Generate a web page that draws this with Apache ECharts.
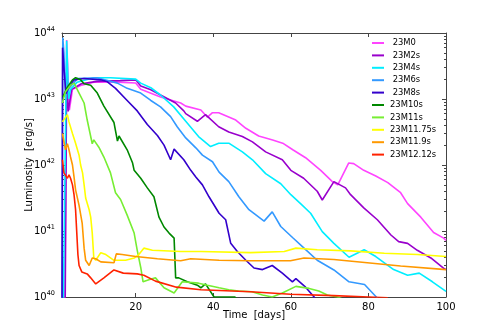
<!DOCTYPE html>
<html><head><meta charset="utf-8">
<script src="https://cdn.jsdelivr.net/npm/echarts@6/dist/echarts.min.js"></script>
<style>html,body{margin:0;padding:0;background:#fff}#c{width:495px;height:330px}</style>
</head><body><div id="c"></div>
<script>
const seriesNames = [' 23M0', ' 23M2s', ' 23M4s', ' 23M6s', ' 23M8s', '23M10s', '23M11s', '23M11.75s', '23M11.9s', '23M12.12s'];
const seriesColors = ['#ff44ff', '#9900cc', '#00eeff', '#3399ff', '#3300cc', '#008800', '#77ee33', '#ffff00', '#ff9900', '#ff2200'];

const m0 = [[1.7,5e39],[2.2,7.8e43],[2.6,7.8e43],[2.9,6.8e42],[3.7,1.4e43],[5.8,1.6e43],[9.2,1.8e43],[15.3,1.8e43],[20,1.75e43],[21.3,1.4e43],[26.4,1.07e43],[31.6,8.7e42],[32.9,7.8e42],[36.8,6.8e42],[38.5,5.3e42],[39.8,6.2e42],[41.4,6.2e42],[45.8,4.8e42],[48.4,3.6e42],[51.7,2.75e42],[55.3,2.4e42],[57.9,2.14e42],[60.5,1.7e42],[63.8,1.29e42],[67.7,8.3e41],[70.7,5.6e41],[72.1,5.0e41],[74.9,1.07e42],[76.2,1.05e42],[78.8,8.3e41],[81.9,6.8e41],[85.0,5.4e41],[88.3,3.8e41],[90.1,2.6e41],[93.5,1.62e41],[96.8,9.5e40],[99.4,7.8e40],[100,7.2e40]];
const m2s = [[1.8,5e39],[2.2,2.5e43],[2.6,6.5e42],[3.5,1.4e43],[6,1.7e43],[10,1.85e43],[16,1.9e43],[20,1.95e43],[21.3,1.58e43],[23.9,1.38e43],[26.4,1.15e43],[30.3,8.7e42],[32.4,6.6e42],[32.9,6.0e42],[35.9,4.6e42],[38.0,5.8e42],[41.4,3.8e42],[44.0,3.16e42],[47.5,2.7e42],[50.1,2.24e42],[53.5,1.58e42],[57.8,1.2e42],[60.0,8.3e41],[63.3,6.3e41],[66.8,4.0e41],[68.1,2.95e41],[71.1,5.6e41],[74.1,4.5e41],[75.4,3.55e41],[78.8,2.24e41],[82.3,1.48e41],[85.8,8.7e40],[87.8,6.9e40],[90.1,6.5e40],[92.6,5.1e40],[96.1,3.9e40],[99.5,2.7e40],[100,2.6e40]];
const m4s = [[1.3,5e39],[2.2,7.6e43],[2.5,7.6e43],[2.7,1.0e43],[3.2,1.4e43],[4.9,1.8e43],[9.2,2.1e43],[13.5,2.1e43],[20,2.0e43],[21.3,1.74e43],[23.9,1.48e43],[26.4,1.15e43],[29.8,7.6e42],[32.9,4.6e42],[36.2,2.7e42],[39.3,1.9e42],[41.4,2.14e42],[44.0,2.14e42],[47.5,1.58e42],[50.1,1.2e42],[53.5,7.4e41],[57.4,5.2e41],[60.0,3.55e41],[62.5,2.6e41],[65.1,1.86e41],[68.1,9.8e40],[71.1,6.5e40],[75.0,4.0e40],[78.9,5.2e40],[81.9,4.1e40],[86.5,2.6e40],[90.1,2.14e40],[93.1,2.3e40],[96.5,1.7e40],[100,1.22e40]];
const m6s = [[1.0,5e39],[1.2,8.5e43],[1.5,5e43],[1.9,1.2e43],[3.0,1.5e43],[5.0,2.04e43],[10,2.1e43],[15.3,1.74e43],[17.8,1.45e43],[21.3,1.23e43],[23.9,9.5e42],[26.4,7.6e42],[29.0,5.4e42],[30.7,3.8e42],[32.9,2.57e42],[35.5,1.82e42],[37.2,1.41e42],[39.8,1.12e42],[41.5,7.8e41],[44.0,5.6e41],[46.6,3.3e41],[49.2,2.1e41],[53.1,1.41e41],[55.2,1.95e41],[57.4,1.17e41],[60.5,7.9e40],[63.4,5.5e40],[66.8,3.6e40],[71.1,2.57e40],[75.0,1.7e40],[79.0,1.55e40],[82.4,9.5e39]];
const m8s = [[1.0,5e39],[1.15,6e43],[1.5,3e43],[2.0,1.2e43],[3.0,1.6e43],[4.1,1.95e43],[6.7,2.04e43],[11.0,1.95e43],[12.7,1.82e43],[14.8,1.45e43],[17.8,9.5e42],[20.4,6.6e42],[23.0,4.1e42],[25.6,2.8e42],[27.3,2.0e42],[29.0,1.2e42],[29.9,1.74e42],[32.4,1.2e42],[34.2,8.3e41],[35.5,6.6e41],[37.2,5.0e41],[38.9,3.3e41],[41.5,1.86e41],[43.2,1.48e41],[44.5,6.5e40],[46.2,4.9e40],[48.4,3.6e40],[50.5,2.75e40],[52.7,2.6e40],[55.2,3.0e40],[57.8,2.3e40],[60.4,1.7e40],[61.3,1.9e40],[63.8,1.41e40],[66.0,1.0e40],[67,8e39]];
const m10s = [[1.2,1.07e43],[2.3,1.48e43],[3.7,1.95e43],[4.5,2.1e43],[5.8,1.95e43],[6.7,1.7e43],[8.4,1.62e43],[10.1,1.23e43],[11.8,7.8e42],[14.4,4.4e42],[15.3,2.3e42],[15.7,2.75e42],[17.8,1.7e42],[19.2,1.07e42],[19.6,8.3e41],[21.3,6.3e41],[23.0,4.5e41],[24.7,3.3e41],[26.0,1.62e41],[27.3,1.15e41],[28.6,9.3e40],[29.9,7.8e40],[30.3,1.95e40],[31.1,1.95e40],[33.3,1.7e40],[35.9,1.51e40],[36.8,1.38e40],[38.0,1.58e40],[40.2,1.0e40],[45.5,1.0e40],[46.5,9e39]];
const m11s = [[1.1,8.7e42],[1.9,1.29e43],[3.2,1.62e43],[4.1,1.74e43],[5.4,1.23e43],[6.7,8.7e42],[7.5,4.8e42],[8.8,2.1e42],[9.2,2.4e42],[10.5,1.86e42],[11.8,1.32e42],[13.5,7.6e41],[14.8,3.8e41],[16.1,3.0e41],[17.8,1.74e41],[19.6,9.3e40],[20.4,5.1e40],[21.3,2.8e40],[21.9,1.7e40],[23.4,1.82e40],[25.1,1.95e40],[27.3,1.38e40],[29.9,1.15e40],[32.0,1.7e40],[36.2,1.62e40],[38.5,1.51e40],[41.5,1.38e40],[44,1.29e40],[46.5,1.23e40],[50,1.2e40],[52.7,1.07e40],[55.2,1.0e40],[57.8,1.15e40],[61.3,1.45e40],[64.7,1.35e40],[67.2,1.23e40],[69.4,1.07e40],[72,1.0e40],[74,9e39]];
const m1175s = [[1.1,4.5e42],[2.4,5.8e42],[2.8,4.5e42],[3.7,3.0e42],[4.5,2.14e42],[5.4,1.41e42],[5.8,1.0e42],[6.3,7.6e41],[6.7,5.0e41],[7.1,3.16e41],[8.0,2.1e41],[8.4,1.62e41],[8.8,9.3e40],[9.2,3.9e40],[9.7,3.6e40],[11.0,4.7e40],[12.3,4.4e40],[14.4,3.6e40],[17.4,3.6e40],[19.6,3.9e40],[20.8,4.4e40],[22.1,5.5e40],[24.3,5.1e40],[31.6,4.9e40],[36.8,4.9e40],[49.6,4.7e40],[58.3,4.9e40],[61.3,5.5e40],[66.8,5.2e40],[75.4,5.0e40],[84.1,4.6e40],[92.6,4.4e40],[100,4.1e40]];
const m119s = [[1.1,3.0e42],[1.9,1.7e42],[2.4,2.1e42],[2.8,1.7e42],[3.2,1.32e42],[3.7,1.0e42],[4.1,6.6e41],[4.5,4.2e41],[5.4,2.45e41],[6.2,1.32e41],[6.7,5.5e40],[7.1,3.6e40],[8.0,3.0e40],[8.8,3.9e40],[9.7,3.8e40],[11.0,3.4e40],[14.4,3.3e40],[15.0,4.5e40],[16.5,4.4e40],[20.0,4.1e40],[25.6,3.8e40],[31.6,3.55e40],[34.2,3.8e40],[41.5,3.6e40],[49.6,3.55e40],[59.9,3.55e40],[63.4,3.9e40],[71.1,3.7e40],[79.7,3.3e40],[88.3,2.95e40],[100,2.6e40]];
const m1212s = [[1.1,1.2e42],[1.5,7.6e41],[1.9,7.8e41],[2.4,6.3e41],[2.8,7.1e41],[3.2,6.3e41],[3.7,5.0e41],[4.1,3.55e41],[4.5,2.1e41],[5.1,4.4e40],[5.4,3.0e40],[6.1,2.4e40],[7.5,2.24e40],[8.4,1.95e40],[9.7,1.58e40],[11.8,1.95e40],[14.4,2.57e40],[16.8,2.3e40],[20.4,2.24e40],[22.1,2.14e40],[25.1,1.74e40],[30.5,1.41e40],[36.8,1.29e40],[49.6,1.2e40],[59.9,1.1e40],[71,1.05e40],[80,1.0e40],[85,9.7e39]];
const seriesData = [m0, m2s, m4s, m6s, m8s, m10s, m11s, m1175s, m119s, m1212s];

const xTickValues = [20, 40, 60, 80, 100];
const yMajorTicks = [1e40, 1e41, 1e42, 1e43, 1e44];
const yMinorTicks = [];
for (let e = 40; e < 44; e++) for (let k = 2; k <= 9; k++) yMinorTicks.push(k * Math.pow(10, e));

const FONT = 'DejaVu Sans';
const frame = {show: true, lineStyle: {color: '#444', width: 1}};
const chart = echarts.init(document.getElementById('c'), null, {renderer: 'canvas'});

function xAx(pos, labels) {
  return {
    type: 'value', min: 1, max: 100, position: pos,
    axisLine: frame,
    axisTick: {show: true, inside: true, length: 4, customValues: xTickValues, lineStyle: {color: '#444'}},
    axisLabel: labels ? {show: true, customValues: xTickValues, fontSize: 10, color: '#000', fontFamily: FONT, margin: 5} : {show: false},
    splitLine: {show: false},
    name: labels ? 'Time  [days]' : '', nameLocation: 'middle', nameGap: 13, nameMoveOverlap: false,
    nameTextStyle: {fontSize: 10, color: '#000', fontFamily: FONT}
  };
}
function yAx(pos, ticks, len, labels, line) {
  return {
    type: 'log', logBase: 10, min: 1e40, max: 1e44, position: pos,
    axisLine: line ? frame : {show: false},
    axisTick: {show: true, inside: true, length: len, customValues: ticks, lineStyle: {color: '#444'}},
    axisLabel: labels ? {
      show: true, customValues: yMajorTicks, margin: 7, color: '#000', fontFamily: FONT, fontSize: 10,
      formatter: v => '10{s|' + Math.round(Math.log10(v)) + '}',
      rich: {s: {fontSize: 6.5, fontFamily: FONT, color: '#000', padding: [0, 0, 7, 0]}}
    } : {show: false},
    splitLine: {show: false},
    name: labels ? 'Luminosity  [erg/s]' : '', nameLocation: 'middle', nameGap: 28, nameMoveOverlap: false,
    nameTextStyle: {fontSize: 10, color: '#000', fontFamily: FONT}
  };
}

chart.setOption({
  animation: false,
  backgroundColor: '#fff',
  grid: {left: 62, right: 49, top: 33, bottom: 33, containLabel: false},
  xAxis: [xAx('bottom', true), xAx('top', false)],
  yAxis: [yAx('left', yMajorTicks, 4, true, true), yAx('left', yMinorTicks, 2, false, false),
          yAx('right', yMajorTicks, 4, false, true), yAx('right', yMinorTicks, 2, false, false)],
  legend: {
    orient: 'vertical', left: 372, top: 37, padding: 0, itemWidth: 12, itemHeight: 2, itemGap: 0.4, icon: 'rect',
    data: seriesNames,
    textStyle: {fontSize: 8.4, lineHeight: 12, color: '#000', fontFamily: FONT, padding: [0, 0, 0, 1]}
  },
  series: seriesNames.map((n, i) => ({
    name: n, type: 'line', xAxisIndex: 0, yAxisIndex: 0, data: seriesData[i],
    showSymbol: false, symbol: 'none', clip: true,
    lineStyle: {color: seriesColors[i], width: 1.6}, itemStyle: {color: seriesColors[i]}
  }))
});
</script></body></html>
